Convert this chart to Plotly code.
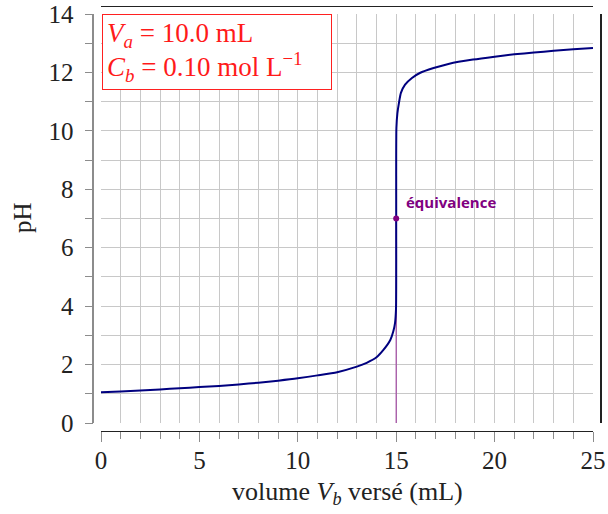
import plotly.graph_objects as go

# data
volume_ml = [0, 1, 2, 3, 4, 5, 6, 7, 8, 9, 10, 11, 12, 13, 13.5, 14, 14.35, 14.7, 14.85, 14.94,
             14.99, 15, 15.01, 15.06, 15.14, 15.24, 15.45, 15.8, 16.2, 16.9, 17.7, 18.9, 20, 21,
             22, 23, 24, 25]
ph_values = [1.05, 1.08, 1.11, 1.15, 1.19, 1.23, 1.27, 1.32, 1.38, 1.45, 1.53, 1.63, 1.74, 1.93,
             2.06, 2.25, 2.5, 2.84, 3.13, 3.42, 3.9, 7.0, 10.1, 10.6, 10.96, 11.3, 11.58, 11.81,
             11.98, 12.15, 12.3, 12.44, 12.54, 12.62, 12.68, 12.74, 12.79, 12.84]
equiv_x = [15]
equiv_y = [7]
x_ticks = [0, 5, 10, 15, 20, 25]
y_ticks = [0, 2, 4, 6, 8, 10, 12, 14]

W, H = 608, 514
L, R, T, B = 101, 593, 14, 423
xdom = [L / W, R / W]
ydom = [(H - B) / H, (H - T) / H]

SERIF = "Liberation Serif"
GRID = "#c8c8c8"
PURPLE = "#800080"

fig = go.Figure()
fig.add_trace(go.Scatter(x=[equiv_x[0], equiv_x[0]], y=[0, equiv_y[0]], mode="lines",
                         line=dict(color="#a24aa2", width=1.2), hoverinfo="skip",
                         showlegend=False))
fig.add_trace(go.Scatter(x=volume_ml, y=ph_values, mode="lines",
                         line=dict(color="#00007f", width=2, shape="spline", smoothing=0.6),
                         showlegend=False))
fig.add_trace(go.Scatter(x=equiv_x, y=equiv_y, mode="markers",
                         marker=dict(color=PURPLE, size=6), showlegend=False))
fig.add_trace(go.Scatter(x=[], y=[], xaxis="x2", yaxis="y2", showlegend=False))
fig.add_trace(go.Scatter(x=[], y=[], xaxis="x3", yaxis="y3", showlegend=False))

fig.update_layout(
    width=W, height=H,
    margin=dict(l=0, r=0, t=0, b=0, pad=0, autoexpand=False),
    paper_bgcolor="white", plot_bgcolor="white",
    xaxis=dict(domain=xdom, range=[0, 25], dtick=1, showgrid=True, gridcolor=GRID,
               gridwidth=1, zeroline=False, showline=False, ticks="", automargin=False,
               showticklabels=False, anchor="y", fixedrange=True),
    yaxis=dict(domain=ydom, range=[0, 14], dtick=1, showgrid=True, gridcolor=GRID,
               gridwidth=1, zeroline=False, showline=False, ticks="", automargin=False,
               showticklabels=False, anchor="x", fixedrange=True),
    xaxis2=dict(overlaying="x", anchor="free", position=(H - 430.7) / H, side="bottom",
                range=[0, 25], tickvals=x_ticks, ticks="outside", ticklen=10,
                tickcolor="#8c8c8c", showline=True, linecolor="#222222", linewidth=1.2,
                showgrid=False, zeroline=False, automargin=False,
                minor=dict(dtick=1, ticks="outside", ticklen=7, tickcolor="#8c8c8c",
                           showgrid=False),
                tickfont=dict(family=SERIF, size=25, color="#222"), ticklabelstandoff=-3),
    yaxis2=dict(overlaying="y", anchor="free", position=93.3 / W, side="left",
                range=[0, 14], tickvals=y_ticks, ticks="outside", ticklen=8,
                tickcolor="#8c8c8c", showline=True, linecolor="#8c8c8c", linewidth=1.5,
                showgrid=False, zeroline=False, automargin=False,
                minor=dict(dtick=1, ticks="outside", ticklen=8, tickcolor="#8c8c8c",
                           showgrid=False),
                tickfont=dict(family=SERIF, size=25, color="#222"), ticklabelstandoff=6),
    xaxis3=dict(overlaying="x", anchor="free", position=(H - 5.5) / H, side="top",
                range=[0, 25], showline=True, linecolor="#222222", linewidth=1.2,
                automargin=False,
                ticks="", showticklabels=False, showgrid=False, zeroline=False),
    yaxis3=dict(overlaying="y", anchor="free", position=601 / W, side="right",
                range=[0, 14], showline=True, linecolor="#222222", linewidth=1.5,
                automargin=False,
                ticks="", showticklabels=False, showgrid=False, zeroline=False),
    annotations=[
        dict(text="<b>équivalence</b>", x=equiv_x[0], y=equiv_y[0], xref="x", yref="y",
             xanchor="left", yanchor="middle", xshift=8, yshift=17, showarrow=False,
             font=dict(family="Open Sans", size=15, color=PURPLE)),
        dict(text="volume <i>V</i><sub><i>b</i></sub> versé (mL)", xref="paper", yref="paper",
             x=347 / W, y=(H - 493) / H, xanchor="center", yanchor="middle", showarrow=False,
             font=dict(family=SERIF, size=26, color="#222")),
        dict(text="pH", xref="paper", yref="paper", x=22 / W, y=(H - 218) / H,
             xanchor="center", yanchor="middle", showarrow=False, textangle=-90,
             font=dict(family=SERIF, size=25, color="#222")),
        dict(text="<span style='font-size:27px'><i>V</i><sub><i>a</i></sub> = 10.0 mL</span><br>"
                  "<span style='font-size:27px'><i>C</i><sub><i>b</i></sub> = 0.10 mol L<sup>−1</sup></span>",
             xref="paper", yref="paper", x=102 / W, y=(H - 14) / H, xanchor="left",
             yanchor="top", align="left", showarrow=False, width=220, height=66,
             bordercolor="#ff2020", borderwidth=1, borderpad=4, bgcolor="white",
             font=dict(family=SERIF, size=26, color="#ff1a1a")),
    ],
)

fig.write_html("out.html")
